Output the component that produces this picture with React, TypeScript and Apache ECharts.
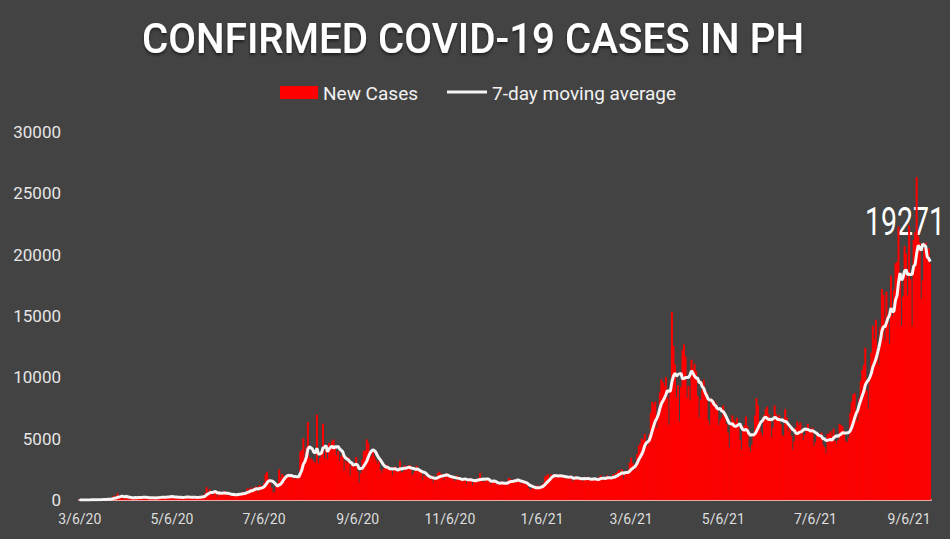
import React, { useEffect, useRef } from 'react';
import * as echarts from 'echarts';

// Daily new cases (first day: 3/6/20)
const mar20 = [2, 1, 4, 14, 9, 16, 3, 12, 47, 29, 47, 45, 15, 15, 13, 77, 73, 82, 90, 84, 71, 96, 272, 343, 128, 538];
const apr20 = [227, 322, 385, 76, 152, 414, 106, 104, 206, 119, 233, 220, 284, 291, 140, 207, 218, 209, 172, 200, 140, 111, 271, 211, 102, 285, 198, 181, 254, 276];
const may20 = [284, 156, 295, 262, 320, 350, 199, 120, 147, 184, 292, 264, 268, 215, 258, 208, 213, 205, 224, 279, 213, 180, 163, 258, 284, 350, 380, 539, 1046, 590, 862];
const jun20 = [552, 359, 751, 634, 244, 714, 555, 579, 518, 740, 457, 351, 426, 327, 357, 555, 457, 490, 568, 467, 502, 555, 651, 653, 950, 766, 1010, 653, 985, 1080];
const jul20 = [1079, 594, 1231, 1131, 1020, 1390, 2100, 2300, 1740, 1366, 987, 590, 660, 1124, 1391, 2498, 1841, 2115, 1973, 1773, 1951, 1987, 2103, 2110, 1687, 1867, 1678, 1874, 1951, 3954, 4063];
const aug20 = [5032, 3279, 4302, 6352, 3462, 3379, 3294, 3109, 3045, 6958, 2987, 3420, 4002, 6216, 3379, 4120, 3314, 4650, 4351, 4786, 4933, 4323, 3650, 4002, 3183, 3548, 3998, 2400, 3200, 2980, 3483];
const sep20 = [1987, 3116, 2750, 2670, 3500, 2340, 1383, 2180, 3281, 4000, 4040, 4935, 4632, 3475, 3544, 3962, 3550, 3257, 2950, 3200, 2450, 2180, 2540, 2630, 2880, 2740, 2469, 2416, 2025, 2630];
const oct20 = [2730, 2291, 2590, 3190, 2214, 2300, 2825, 2720, 2660, 2840, 2800, 1990, 2163, 2410, 2800, 2530, 2285, 2238, 1600, 2016, 1910, 1800, 1900, 1670, 1990, 1370, 1712, 1900, 2200, 2300, 2136];
const nov20 = [2082, 1600, 1900, 2167, 1810, 1900, 1930, 1700, 1540, 1600, 2000, 1665, 1700, 1500, 1780, 1790, 1330, 1720, 1800, 1650, 1200, 1700, 1550, 1670, 1800, 2200, 1600, 1450, 1500, 1800];
const dec20 = [1700, 1500, 1280, 1480, 1600, 1400, 1300, 1200, 1330, 1380, 1500, 1480, 1430, 1190, 1800, 1700, 1520, 1600, 1700, 1450, 1700, 1500, 1300, 1400, 1300, 1400, 1200, 1000, 800, 900, 1000];
const jan21 = [1000, 1100, 1200, 950, 1050, 1250, 1400, 1900, 2000, 2100, 1750, 2100, 2000, 2100, 1800, 2000, 2000, 1900, 1850, 2000, 1800, 1700, 1850, 1950, 2000, 1500, 1600, 1950, 1800, 1700, 1800];
const feb21 = [1800, 1500, 1700, 1800, 1900, 1700, 1600, 1600, 1700, 1800, 1600, 1650, 1900, 2000, 1700, 1800, 1600, 2000, 1750, 1900, 1800, 2100, 1800, 2200, 2300, 2450, 2300, 2500];
const mar21 = [1700, 2100, 2300, 2400, 3045, 3439, 2997, 2452, 2886, 3749, 4437, 4578, 5000, 4899, 5404, 4437, 4387, 5351, 7103, 7999, 7757, 8019, 5867, 6666, 8773, 9838, 9595, 9296, 10016, 8355, 6128];
const apr21 = [8920, 15310, 12576, 11028, 8355, 9373, 6414, 9216, 12225, 12674, 11681, 8331, 9296, 8122, 11429, 10726, 11101, 10500, 8500, 6700, 8200, 9000, 9800, 8600, 8800, 6500, 6100, 8300, 8000, 8100];
const may21 = [7900, 7400, 6100, 6500, 6700, 7700, 6800, 6200, 5500, 4300, 6200, 6900, 6500, 6300, 6700, 6000, 4900, 4100, 5700, 6100, 6800, 6000, 4300, 3900, 4500, 5400, 6900, 8300, 7700, 6300, 5500];
const jun21 = [5200, 6900, 7400, 7600, 7000, 6500, 5100, 5900, 7700, 7000, 6800, 6900, 6200, 5300, 5200, 7400, 6700, 5600, 5900, 5200, 4100, 4800, 5900, 6400, 6100, 6300, 5600, 4900, 5300, 5800];
const jul21 = [6200, 5700, 5800, 5900, 4400, 4700, 5300, 5200, 5400, 5500, 4500, 4300, 3800, 5400, 5400, 5600, 5200, 5800, 4800, 4600, 4900, 6200, 6100, 6000, 5600, 4800, 4700, 5100, 7100, 8000, 8600];
const aug21 = [8700, 7200, 6400, 8300, 9700, 10600, 11000, 12400, 8900, 7400, 10000, 12000, 14200, 13100, 14700, 12100, 11000, 14100, 17200, 16700, 13000, 17000, 14700, 12700, 18300, 15000, 17100, 19300, 19400, 22300, 18100];
const sep21 = [14200, 16600, 20700, 20100, 16700, 22400, 18000, 14200, 21200, 21800, 26303, 21500, 21000, 16400, 17900, 20500, 21000, 20500, 20500, 19271];

const tickLabels = ['3/6/20', '5/6/20', '7/6/20', '9/6/20', '11/6/20', '1/6/21', '3/6/21', '5/6/21', '7/6/21', '9/6/21'];
const seriesNames = ['New Cases', '7-day moving average'];
const titleText = 'CONFIRMED COVID-19 CASES IN PH';
const calloutText = '19271';

const BG = '#434343';
const RED = '#ff0000';
const LINE = '#f5f5f5';

export default function App() {
  const ref = useRef<HTMLDivElement>(null);

  useEffect(() => {
    document.body.style.margin = '0';
    const cases = [
      ...mar20, ...apr20, ...may20, ...jun20, ...jul20, ...aug20, ...sep20, ...oct20, ...nov20, ...dec20,
      ...jan21, ...feb21, ...mar21, ...apr21, ...may21, ...jun21, ...jul21, ...aug21, ...sep21,
    ];
    const start = Date.UTC(2020, 2, 6);
    const dates = cases.map((_, i) => {
      const d = new Date(start + i * 86400000);
      return `${d.getUTCMonth() + 1}/${d.getUTCDate()}/${String(d.getUTCFullYear()).slice(2)}`;
    });
    const movingAvg = cases.map((_, i) => {
      const w = cases.slice(Math.max(0, i - 6), i + 1);
      return Math.round(w.reduce((a, b) => a + b, 0) / w.length);
    });

    const chart = echarts.init(ref.current!, null, { renderer: 'svg' });
    chart.setOption({
      animation: false,
      backgroundColor: BG,
      grid: { left: 79, right: 19, top: 132, bottom: 39 },
      xAxis: {
        type: 'category',
        data: dates,
        boundaryGap: true,
        axisLine: { lineStyle: { color: '#f0a8a8', width: 2 } },
        axisTick: { show: false },
        axisLabel: {
          interval: (_idx: number, value: string) => tickLabels.includes(value),
          color: '#dedede',
          fontSize: 14,
          fontFamily: 'Roboto',
          margin: 12,
        },
      },
      yAxis: {
        type: 'value',
        min: 0,
        max: 30000,
        interval: 5000,
        axisLine: { show: false },
        axisTick: { show: false },
        splitLine: { show: false },
        axisLabel: {
          color: '#e6e6e6',
          fontSize: 17,
          fontFamily: 'Roboto',
          margin: 18,
          formatter: (v: number) => String(v),
        },
      },
      series: [
        {
          name: seriesNames[0],
          type: 'bar',
          data: cases,
          barWidth: 2,
          barGap: '-100%',
          itemStyle: { color: RED },
        },
        {
          name: seriesNames[1],
          type: 'line',
          data: movingAvg,
          symbol: 'none',
          showSymbol: false,
          lineStyle: { color: LINE, width: 3 },
          itemStyle: { color: LINE },
        },
      ],
      graphic: [
        {
          type: 'text',
          x: 473,
          y: 39,
          scaleX: 0.96,
          style: {
            text: titleText,
            fill: '#ffffff',
            font: '500 42px Roboto',
            align: 'center',
            verticalAlign: 'middle',
            textShadowColor: 'rgba(0,0,0,0.55)',
            textShadowBlur: 3,
            textShadowOffsetY: 2,
          },
        },
        {
          type: 'rect',
          shape: { x: 280, y: 86, width: 38, height: 13 },
          style: { fill: RED },
        },
        {
          type: 'text',
          x: 323,
          y: 93,
          style: {
            text: seriesNames[0],
            fill: '#f2f2f2',
            font: '19px Roboto',
            align: 'left',
            verticalAlign: 'middle',
          },
        },
        {
          type: 'line',
          shape: { x1: 447, y1: 92, x2: 487, y2: 92 },
          style: { stroke: LINE, lineWidth: 3 },
        },
        {
          type: 'text',
          x: 492,
          y: 93,
          style: {
            text: seriesNames[1],
            fill: '#f2f2f2',
            font: '19px Roboto',
            align: 'left',
            verticalAlign: 'middle',
          },
        },
        {
          type: 'text',
          x: 945,
          y: 222,
          scaleX: 0.75,
          style: {
            text: calloutText,
            fill: '#ffffff',
            font: '38px Roboto',
            align: 'right',
            verticalAlign: 'middle',
          },
        },
      ],
    });
    return () => chart.dispose();
  }, []);

  return <div ref={ref} style={{ width: 950, height: 539 }} />;
}
